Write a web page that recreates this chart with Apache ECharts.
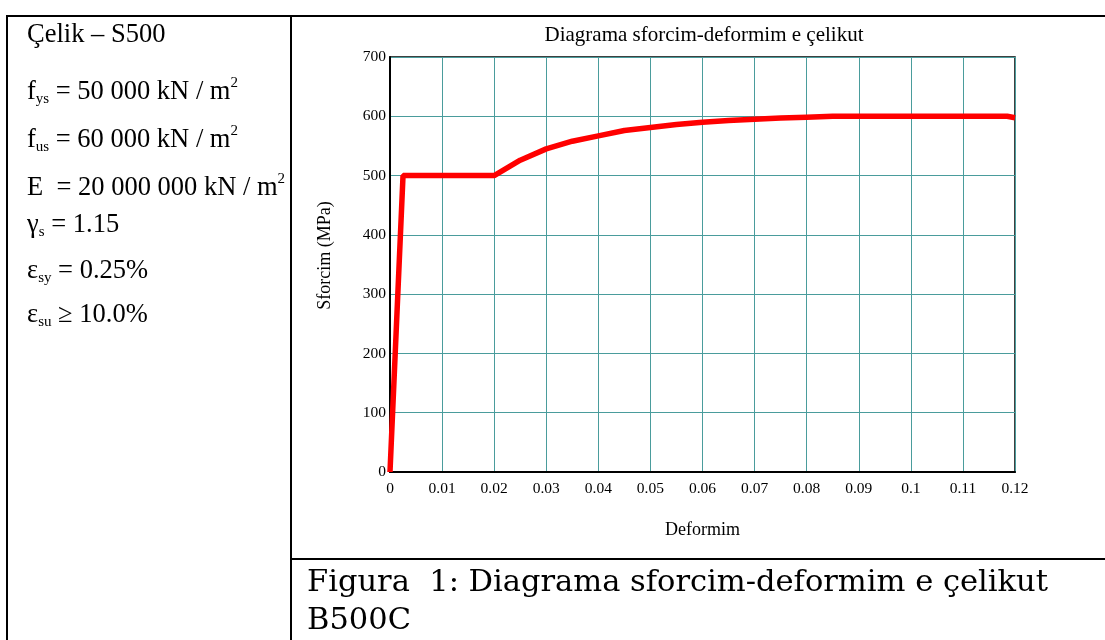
<!DOCTYPE html>
<html>
<head>
<meta charset="utf-8">
<script src="https://cdn.jsdelivr.net/npm/echarts@6/dist/echarts.min.js"></script>
<style>
  body { margin: 0; background: #fff; }
  #page { position: relative; width: 1105px; height: 640px; overflow: hidden; }
  #chart { position: absolute; left: 0; top: 0; width: 1105px; height: 640px; }
  .ln { position: absolute; background: #000; }
  .cell { position: absolute; left: 8px; top: 17px; width: 282px; height: 623px; overflow: hidden; }
  .txt { position: absolute; left: 19px; font-family: "Liberation Serif", serif; font-size: 26.5px; line-height: 26px; white-space: nowrap; color: #000; }
  .txt sub { font-size: 15px; vertical-align: -4px; }
  .txt sup { font-size: 15px; vertical-align: 12px; }
  .cap { position: absolute; left: 307px; font-family: "DejaVu Serif", serif; font-size: 30.5px; line-height: 30px; white-space: nowrap; color: #000; }
</style>
</head>
<body>
<div id="page">
  <div id="chart"></div>

  <!-- table borders -->
  <div class="ln" style="left:6px; top:15px; width:1099px; height:2px;"></div>
  <div class="ln" style="left:6px; top:15px; width:2px; height:625px;"></div>
  <div class="ln" style="left:290px; top:15px; width:2px; height:625px;"></div>
  <div class="ln" style="left:290px; top:558px; width:815px; height:2px;"></div>

  <!-- left cell -->
  <div class="cell">
    <div class="txt" style="top:3px;">Çelik – S500</div>
    <div class="txt" style="top:52px;">f<sub>ys</sub> = 50 000 kN / m<sup>2</sup></div>
    <div class="txt" style="top:100px;">f<sub>us</sub> = 60 000 kN / m<sup>2</sup></div>
    <div class="txt" style="top:148px;">E &nbsp;= 20 000 000 kN / m<sup>2</sup></div>
    <div class="txt" style="top:193px;">γ<sub>s</sub> = 1.15</div>
    <div class="txt" style="top:239px;">ε<sub>sy</sub> = 0.25%</div>
    <div class="txt" style="top:283px;">ε<sub>su</sub> ≥ 10.0%</div>
  </div>

  <!-- caption -->
  <div class="cap" style="top:566px;">Figura&nbsp; 1: Diagrama sforcim-deformim e çelikut</div>
  <div class="cap" style="top:604px;">B500C</div>
</div>

<script>
// deformim (x) dhe sforcim ne MPa (y), lexuar nga grafiku
var strain = [0, 0.0025, 0.02, 0.025, 0.03, 0.035, 0.04, 0.045, 0.05, 0.055, 0.06, 0.065, 0.07, 0.075, 0.08, 0.085, 0.1185, 0.12];
var stress = [0, 500, 500, 526, 545, 558, 567, 576, 581, 586, 590, 593, 595, 597, 598.5, 600, 600, 597.5];

var xTicks = [0, 0.01, 0.02, 0.03, 0.04, 0.05, 0.06, 0.07, 0.08, 0.09, 0.1, 0.11, 0.12];
var yTicks = [0, 100, 200, 300, 400, 500, 600, 700];

var points = strain.map(function (x, i) { return [x, stress[i]]; });

var mychart = echarts.init(document.getElementById("chart"));
var font = '"Liberation Serif", serif';
var gridColor = "#4a9c9c";

var options = {
  backgroundColor: "transparent",
  animation: false,
  title: {
    text: "Diagrama sforcim-deformim e çelikut",
    left: 699,
    top: 20,
    textAlign: "center",
    textStyle: { fontFamily: font, fontSize: 21, fontWeight: "normal", color: "#000" }
  },
  grid: {
    left: 390,
    top: 57,
    width: 625,
    height: 415,
    show: true,
    borderColor: "#000",
    borderWidth: 1.5
  },
  xAxis: {
    type: "value",
    min: xTicks[0],
    max: xTicks[xTicks.length - 1],
    interval: 0.01,
    name: "Deformim",
    nameLocation: "middle",
    nameGap: 49,
    nameTextStyle: { fontFamily: font, fontSize: 18, color: "#000" },
    axisLine: { show: true, lineStyle: { color: "#000", width: 2 } },
    axisTick: { show: false },
    axisLabel: {
      fontFamily: font, fontSize: 15.5, color: "#000", margin: 9,
      formatter: function (v) { return String(Math.round(v * 100) / 100); }
    },
    splitLine: { show: true, lineStyle: { color: gridColor, width: 1 } }
  },
  yAxis: {
    type: "value",
    min: yTicks[0],
    max: yTicks[yTicks.length - 1],
    interval: 100,
    name: "Sforcim (MPa)",
    nameLocation: "middle",
    nameGap: 56,
    nameTextStyle: { fontFamily: font, fontSize: 18, color: "#000", padding: [0, 0, 0, 18] },
    axisLine: { show: true, lineStyle: { color: "#000", width: 2 } },
    axisTick: { show: false },
    axisLabel: { fontFamily: font, fontSize: 15.5, color: "#000", margin: 4 },
    splitLine: { show: true, lineStyle: { color: gridColor, width: 1 } }
  },
  series: [
    {
      type: "line",
      data: points,
      showSymbol: false,
      symbol: "none",
      lineStyle: { color: "#ff0000", width: 5.5 },
      z: 5
    }
  ]
};
mychart.setOption(options);
</script>
</body>
</html>
